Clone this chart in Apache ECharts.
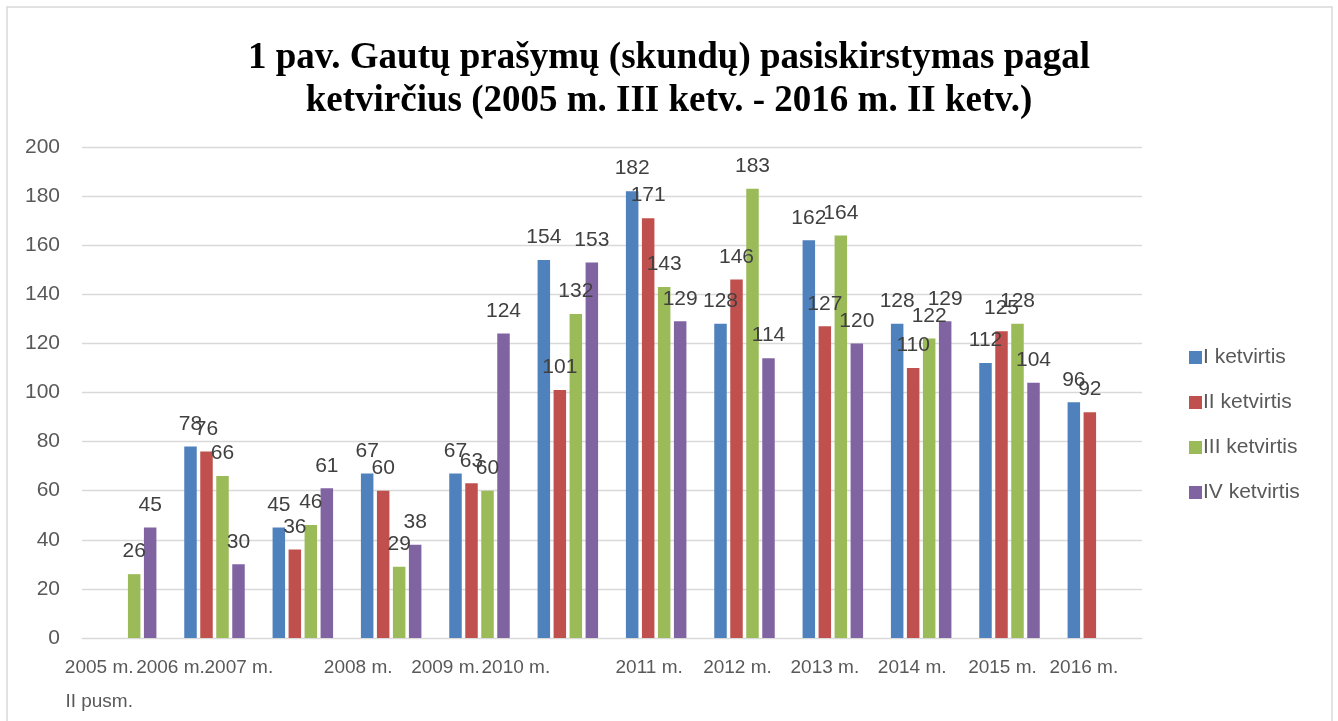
<!DOCTYPE html>
<html style="height: 100%">
    <head>
        <meta charset="utf-8">
        <script type="text/javascript" src="https://cdn.jsdelivr.net/npm/echarts@6/dist/echarts.min.js"></script>
    </head>
    <body style="height: 100%; margin: 0; background: #fff">
        <div id="main" style="width: 1338px; height: 721px"></div>
        <script type="text/javascript">
            // data
            var years = ['2005 m.\nII pusm.', '2006 m.', '2007 m.', '2008 m.', '2009 m.', '2010 m.',
                         '2011 m.', '2012 m.', '2013 m.', '2014 m.', '2015 m.', '2016 m.'];
            var q1 = [null, 78, 45, 67, 67, 154, 182, 128, 162, 128, 112, 96];
            var q2 = [null, 76, 36, 60, 63, 101, 171, 146, 127, 110, 125, 92];
            var q3 = [26, 66, 46, 29, 60, 132, 143, 183, 164, 122, 128, null];
            var q4 = [45, 30, 61, 38, 124, 153, 129, 114, 120, 129, 104, null];
            var names = ['I ketvirtis', 'II ketvirtis', 'III ketvirtis', 'IV ketvirtis'];
            var colors = ['#4f81bd', '#c0504d', '#9bbb59', '#8064a2'];

            // excel puts the year labels a bit left of the category centre
            var labelShift = [27, 44, 64, 33, 34, 52, 7, 7, 8, 9, 7, 14];

            var font = 'Liberation Sans, Arial, sans-serif';
            var catData = years.map(function (y, i) {
                return { value: y, textStyle: { padding: [0, labelShift[i] * 2, 0, 0] } };
            });

            var series = [q1, q2, q3, q4].map(function (vals, i) {
                return {
                    name: names[i],
                    type: 'bar',
                    data: vals,
                    barWidth: 12.5,
                    barGap: '28%',
                    itemStyle: { color: colors[i] },
                    label: {
                        show: true,
                        position: 'top',
                        distance: 12,
                        color: '#404040',
                        fontFamily: font,
                        fontSize: 21
                    }
                };
            });

            var myChart = echarts.init(document.getElementById('main'));
            myChart.setOption({
                backgroundColor: '#fff',
                animation: false,
                title: {
                    text: '1 pav. Gautų prašymų (skundų) pasiskirstymas pagal\nketvirčius (2005 m. III ketv. - 2016 m. II ketv.)',
                    left: 'center',
                    top: 32,
                    textStyle: {
                        fontFamily: 'Liberation Serif, Times New Roman, serif',
                        fontWeight: 'bold',
                        fontSize: 37,
                        lineHeight: 43,
                        color: '#000'
                    }
                },
                graphic: [{
                    type: 'rect',
                    shape: { x: 7, y: 7, width: 1325, height: 800 },
                    style: { fill: 'none', stroke: '#d9d9d9', lineWidth: 1.5 },
                    silent: true
                }],
                legend: {
                    orient: 'vertical',
                    left: 1184,
                    top: 342,
                    itemWidth: 13,
                    itemHeight: 13,
                    itemGap: 24,
                    icon: 'rect',
                    textStyle: { color: '#595959', fontFamily: font, fontSize: 21, padding: [0, 0, 0, -4] },
                    data: names
                },
                grid: { left: 82, right: 196, top: 147, bottom: 83 },
                xAxis: {
                    type: 'category',
                    data: catData,
                    axisLine: { lineStyle: { color: '#d9d9d9' } },
                    axisTick: { show: false },
                    axisLabel: {
                        interval: 0,
                        hideOverlap: false,
                        margin: 13,
                        color: '#595959',
                        fontFamily: font,
                        fontSize: 19,
                        lineHeight: 34
                    }
                },
                yAxis: {
                    type: 'value',
                    min: 0,
                    max: 200,
                    interval: 20,
                    axisLine: { show: false },
                    axisTick: { show: false },
                    splitLine: { lineStyle: { color: '#d9d9d9', width: 1.3 } },
                    axisLabel: { color: '#595959', fontFamily: font, fontSize: 21, margin: 22 }
                },
                series: series
            });
        </script>
    </body>
</html>
